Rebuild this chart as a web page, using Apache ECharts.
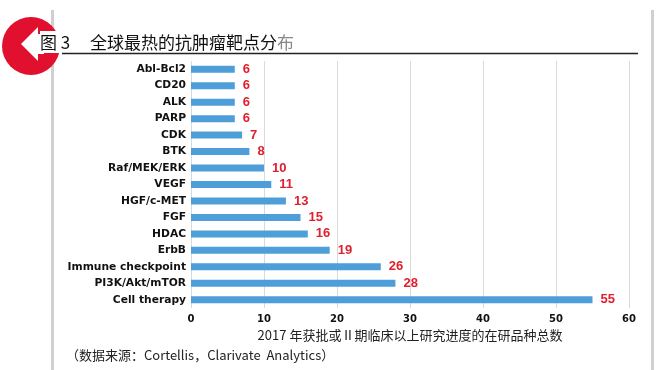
<!DOCTYPE html>
<html><head><meta charset="utf-8">
<script src="https://cdn.jsdelivr.net/npm/echarts@6/dist/echarts.min.js"></script>
<style>html,body{margin:0;padding:0;background:#fff}#c{width:658px;height:370px}</style>
</head><body><div id="c"></div>
<script>
var categories = ['Abl-Bcl2','CD20','ALK','PARP','CDK','BTK','Raf/MEK/ERK','VEGF','HGF/c-MET','FGF','HDAC','ErbB','Immune checkpoint','PI3K/Akt/mTOR','Cell therapy'];
var values = [6,6,6,6,7,8,10,11,13,15,16,19,26,28,55];
var xTicks = [0,10,20,30,40,50,60];
var titleFig = '图 3';
var titleMain = '全球最热的抗肿瘤靶点分';
var titleLast = '布';
var axisName = '2017 年获批或Ⅱ期临床以上研究进度的在研品种总数';
var sourceText = '（数据来源：Cortellis，Clarivate  Analytics）';

var chart = echarts.init(document.getElementById('c'), null, {renderer:'canvas'});
chart.setOption({
  animation:false,
  backgroundColor:'#fff',
  grid:{left:191,right:29,top:61,bottom:62,containLabel:false},
  xAxis:{type:'value',min:xTicks[0],max:xTicks[xTicks.length-1],interval:10,
    axisLine:{show:false},axisTick:{show:false},
    splitLine:{show:true,lineStyle:{color:'#d9d9d9',width:1}},
    axisLabel:{margin:6,color:'#111',fontFamily:'DejaVu Sans',fontWeight:'bold',fontSize:10},
    name:axisName,nameLocation:'middle',nameGap:20,
    nameTextStyle:{color:'#222',fontFamily:'Noto Sans CJK SC',fontSize:13}
  },
  yAxis:{type:'category',data:categories,inverse:true,
    axisLine:{show:false},axisTick:{show:false},
    axisLabel:{margin:5,color:'#111',fontFamily:'DejaVu Sans',fontWeight:'bold',fontSize:10.7}
  },
  series:[{type:'bar',data:values,barWidth:7,
    itemStyle:{color:'#4e9fd9'},
    label:{show:true,position:'right',distance:8,color:'#e0202e',fontFamily:'Liberation Sans',fontWeight:'bold',fontSize:13}
  }],
  graphic:[
    {type:'rect',z:-10,shape:{x:51,y:10,width:3,height:360},style:{fill:'#d0d0d0'}},
    {type:'rect',z:-10,shape:{x:651,y:10,width:3,height:360},style:{fill:'#d0d0d0'}},
    {type:'circle',z:10,shape:{cx:31,cy:46,r:29},style:{fill:'#e0102e'}},
    {type:'polygon',z:11,shape:{points:[[21,44],[38,27],[38,34],[44,34],[44,54],[38,54],[38,61]]},style:{fill:'#fff'}},
    {type:'rect',z:11,shape:{x:40,y:31,width:22,height:22},style:{fill:'#fff'}},
    {type:'line',z:12,shape:{x1:62,y1:53.5,x2:638,y2:53.5},style:{stroke:'#222',lineWidth:1.5}},
    {type:'text',z:13,left:40,top:34,style:{text:titleFig,fontFamily:'Noto Sans CJK SC',fontSize:17,fill:'#111'}},
    {type:'text',z:13,left:90,top:34,style:{
      text:'{a|'+titleMain+'}{b|'+titleLast+'}',
      rich:{a:{fontFamily:'Noto Sans CJK SC',fontSize:17,fill:'#111'},
            b:{fontFamily:'Noto Sans CJK SC',fontSize:17,fill:'#888'}}}},
    {type:'text',z:13,left:66,top:349,style:{text:sourceText,fontFamily:'Noto Sans CJK SC',fontSize:13,fill:'#222'}}
  ]
});
</script></body></html>
